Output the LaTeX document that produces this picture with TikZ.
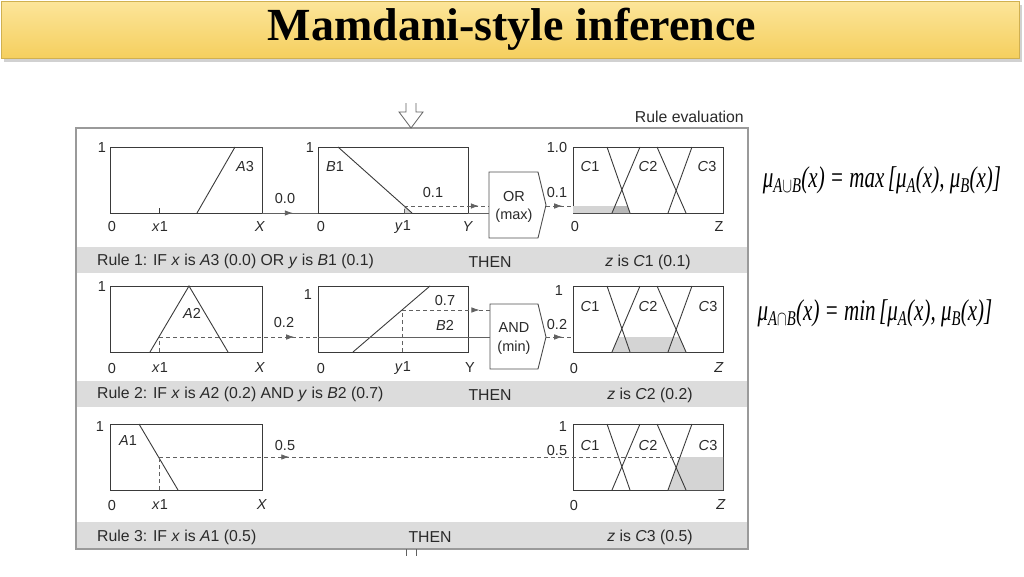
\documentclass[tikz,border=0pt]{standalone}
\usepackage{fontspec}
\setmainfont{Liberation Sans}
\newfontfamily\tms{Liberation Serif}
\usepackage{graphicx}
\usetikzlibrary{arrows.meta,decorations.markings}
\definecolor{txt}{HTML}{2A2A2A}
\definecolor{ln}{HTML}{3A3A3A}
\definecolor{band}{HTML}{DCDCDC}
\definecolor{frm}{HTML}{9A9A9A}
\definecolor{shA}{HTML}{D4D4D4}
\definecolor{shB}{HTML}{B8B8B8}
\definecolor{barA}{HTML}{FCE59A}
\definecolor{barB}{HTML}{F5CF5E}
\newcommand\clines[1]{%
  \draw[mf] (607,#1) -- (630,#1+66);
  \draw[mf] (612,#1+66) -- (640,#1);
  \draw[mf] (657,#1) -- (686,#1+66);
  \draw[mf] (668,#1+66) -- (692,#1);
}
\begin{document}
\begin{tikzpicture}[x=1pt,y=-1pt,
  lbl/.style={font=\fontsize{14.5}{15}\selectfont, text=txt, inner sep=0},
  rl/.style={font=\fontsize{15.8}{16}\selectfont, text=txt, inner sep=0},
  panelA/.style={draw=ln, line width=0.9pt, minimum width=152pt, minimum height=66pt, anchor=north west, inner sep=0, outer sep=0},
  panelB/.style={panelA, minimum width=150pt},
  mf/.style={draw=ln, line width=0.9pt},
  dsh/.style={draw=ln!80, line width=0.7pt, dash pattern=on 4pt off 3pt},
  sol/.style={draw=ln!80, line width=0.9pt},
  midarr/.style={postaction={decorate, decoration={markings, mark=at position #1 with {\arrow{Latex[length=8pt,width=5.5pt]}}}}},
  gate/.style={draw=ln!90, line width=0.9pt, fill=white},
  fml/.style={font=\tms\itshape\fontsize{30}{30}\selectfont, text=black, inner sep=0}
]
\useasboundingbox (0,0) rectangle (1024,576);
% title bar
\fill[black!18] (4,5) rectangle (1022,62);
\shade[top color=barA, bottom color=barB, draw=barB!85!black] (1,1) rectangle (1019,58);
\node[font=\tms\bfseries\fontsize{46}{46}\selectfont, text=black] (title) at (512,29) {Mamdani-style inference};

% frame and bands
\fill[band] (76,247) rectangle (748,273);
\fill[band] (76,381) rectangle (748,407);
\fill[band] (76,522) rectangle (748,549);
\draw[frm, line width=1.4pt] (76,128) rectangle (748,549);
\node[rl, anchor=east] (reval) at (744,117) {Rule evaluation};

% input arrow top and ticks bottom
\draw[ln!80, line width=0.8pt, fill=white] (406,103) -- (406,112) -- (399,112) -- (411,128) -- (423,112) -- (416,112) -- (416,103);
\draw[ln!80, line width=0.8pt] (406,549) -- (406,556) (416,549) -- (416,556);

% ================= Rule 1 =================
\node[panelA] (pA3) at (110,147) {};
\draw[mf] (197,213) -- (235,147);
\draw[ln, line width=0.6pt] (159,213) -- (159,208);
\node[panelB] (pB1) at (318,147) {};
\fill[shA] (404,206) -- (412,213) -- (404,213) -- cycle;
\draw[mf] (338,147) -- (412,213);
\draw[dsh] (404,213) -- (404,206);
\node[panelB] (pC1) at (573,147) {};
\fill[shA] (573,213) -- (573,206) -- (627.6,206) -- (630,213) -- cycle;
\fill[shB] (612,213) -- (615,206) -- (627.6,206) -- (630,213) -- cycle;
\clines{147}
% gate OR
\draw[gate] (489,172) -- (538,172) -- (546,205) -- (538,238) -- (489,238) -- cycle;
\coordinate (orL) at (489,213);
\coordinate (orLd) at (489,206);
\coordinate (orT) at (546,206);
\node[lbl] (orA) at (514,197) {OR};
\node[lbl] (orB) at (514,216) {(max)};
% connectors
\draw[sol, midarr=0.55] (pA3.south east) -- (pB1.south west);
\draw[sol] (pB1.south east) -- (orL);
\draw[dsh, midarr=0.88] (404,206) -- (orLd);
\draw[dsh, midarr=0.6] (orT) -- (pC1.west |- orT);
% labels
\node[lbl] (r1a) at (102,148) {1};
\node[lbl] (r1b) at (112,227) {0};
\node[lbl] (r1c) at (160,227) {\textit{x}1};
\node[lbl] (r1d) at (260,227) {\textit{X}};
\node[lbl] (r1e) at (245,167) {\textit{A}3};
\node[lbl] (r1f) at (285,199) {0.0};
\node[lbl] (r1g) at (310,148) {1};
\node[lbl] (r1h) at (335,167) {\textit{B}1};
\node[lbl] (r1i) at (433,193) {0.1};
\node[lbl] (r1j) at (321,227) {0};
\node[lbl] (r1k) at (403,227) {\textit{y}1};
\node[lbl] (r1l) at (468,227) {\textit{Y}};
\node[lbl] (r1m) at (557,193) {0.1};
\node[lbl] (r1n) at (557,148) {1.0};
\node[lbl] (r1o) at (590,167) {\textit{C}1};
\node[lbl] (r1p) at (648,167) {\textit{C}2};
\node[lbl] (r1q) at (707,167) {\textit{C}3};
\node[lbl] (r1r) at (575,227) {0};
\node[lbl] (r1s) at (719,227) {Z};
\node[rl, anchor=west] (rule1) at (97,261) {Rule 1: IF \textit{x} is \textit{A}3 (0.0) OR \textit{y} is \textit{B}1 (0.1)};
\node[rl] (then1) at (490,262) {THEN};
\node[rl] (con1) at (648,262) {\textit{z} is \textit{C}1 (0.1)};

% ================= Rule 2 =================
\node[panelA] (pA2) at (110,286) {};
\draw[mf] (150,352) -- (189,286) -- (228,352);
\node[panelB] (pB2) at (318,286) {};
\draw[mf] (353,352) -- (430,286);
\node[panelB] (pC2) at (573,286) {};
\fill[shA] (612,352) -- (618.4,337) -- (679.4,337) -- (686,352) -- cycle;
\clines{286}
\draw[gate] (490,304) -- (538,304) -- (546,337) -- (538,369) -- (490,369) -- cycle;
\coordinate (andL) at (490,337);
\coordinate (andLu) at (490,310);
\coordinate (andT) at (546,337);
\node[lbl] (andA) at (514,328) {AND};
\node[lbl] (andB) at (514,348) {(min)};
\draw[dsh] (159,352) -- (159,337);
\draw[dsh, midarr=0.85] (159,337) -- (pB2.west |- andL);
\draw[sol] (pB2.west |- andL) -- (andL);
\draw[dsh] (402,352) -- (402,310);
\draw[dsh, midarr=0.88] (402,310) -- (andLu);
\draw[dsh, midarr=0.6] (andT) -- (pC2.west |- andT);
\node[lbl] (r2a) at (102,287) {1};
\node[lbl] (r2b) at (112,368) {0};
\node[lbl] (r2c) at (160,368) {\textit{x}1};
\node[lbl] (r2d) at (260,368) {\textit{X}};
\node[lbl] (r2e) at (192,313) {\textit{A}2};
\node[lbl] (r2f) at (284,323) {0.2};
\node[lbl] (r2g) at (308,295) {1};
\node[lbl] (r2h) at (445,301) {0.7};
\node[lbl] (r2i) at (445,325) {\textit{B}2};
\node[lbl] (r2j) at (321,368) {0};
\node[lbl] (r2k) at (403,368) {\textit{y}1};
\node[lbl] (r2l) at (470,368) {Y};
\node[lbl] (r2m) at (557,325) {0.2};
\node[lbl] (r2n) at (559,291) {1};
\node[lbl] (r2o) at (590,307) {\textit{C}1};
\node[lbl] (r2p) at (648,307) {\textit{C}2};
\node[lbl] (r2q) at (708,307) {\textit{C}3};
\node[lbl] (r2r) at (574,368) {0};
\node[lbl] (r2s) at (719,368) {\textit{Z}};
\node[rl, anchor=west] (rule2) at (97,394) {Rule 2: IF \textit{x} is \textit{A}2 (0.2) AND \textit{y} is \textit{B}2 (0.7)};
\node[rl] (then2) at (490,395) {THEN};
\node[rl] (con2) at (650,395) {\textit{z} is \textit{C}2 (0.2)};

% ================= Rule 3 =================
\node[panelA] (pA1) at (110,424) {};
\draw[mf] (139,424) -- (178,490);
\node[panelB] (pC3) at (573,424) {};
\fill[shA] (668,490) -- (680,457) -- (723,457) -- (723,490) -- cycle;
\clines{424}
\coordinate (c3L) at (680,457);
\draw[dsh] (159,490) -- (159,457);
\draw[dsh, midarr=0.25] (159,457) -- (c3L);
\node[lbl] (r3a) at (100,427) {1};
\node[lbl] (r3b) at (112,505) {0};
\node[lbl] (r3c) at (160,505) {\textit{x}1};
\node[lbl] (r3d) at (262,505) {\textit{X}};
\node[lbl] (r3e) at (128,441) {\textit{A}1};
\node[lbl] (r3f) at (285,445) {0.5};
\node[lbl] (r3g) at (563,427) {1};
\node[lbl] (r3h) at (557,450) {0.5};
\node[lbl] (r3o) at (590,445) {\textit{C}1};
\node[lbl] (r3p) at (648,445) {\textit{C}2};
\node[lbl] (r3q) at (708,445) {\textit{C}3};
\node[lbl] (r3r) at (574,505) {0};
\node[lbl] (r3s) at (721,505) {\textit{Z}};
\node[rl, anchor=west] (rule3) at (97,537) {Rule 3: IF \textit{x} is \textit{A}1 (0.5)};
\node[rl] (then3) at (430,537) {THEN};
\node[rl] (con3) at (650,537) {\textit{z} is \textit{C}3 (0.5)};

% formulas
\node[fml] (fmax) at (882,180) {\scalebox{0.7}[1]{μ\textsubscript{A$\cup$B}(x) = max\,[μ\textsubscript{A}(x), μ\textsubscript{B}(x)]}};
\node[fml] (fmin) at (875,313) {\scalebox{0.7}[1]{μ\textsubscript{A$\cap$B}(x) = min\,[μ\textsubscript{A}(x), μ\textsubscript{B}(x)]}};
\end{tikzpicture}
\end{document}
